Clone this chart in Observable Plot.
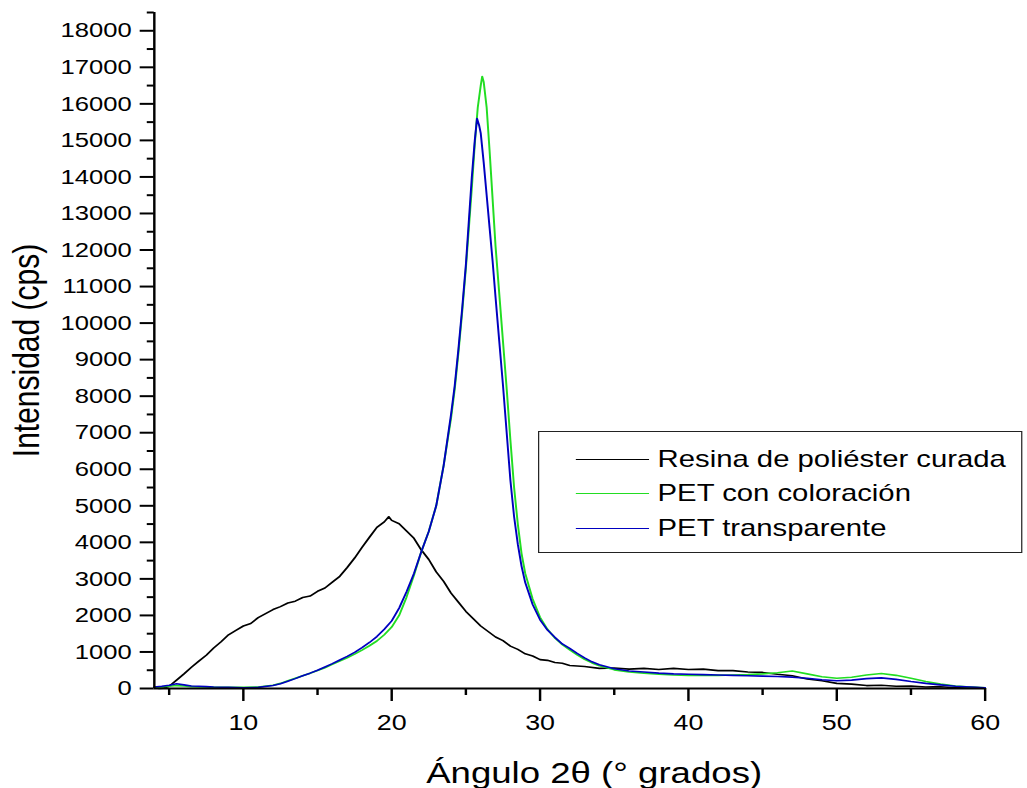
<!DOCTYPE html>
<html><head><meta charset="utf-8">
<script src="https://cdn.jsdelivr.net/npm/d3@7"></script>
<script src="https://cdn.jsdelivr.net/npm/@observablehq/plot@0.6"></script>
<style>
body{margin:0;background:#fff;}
#wrap{position:relative;width:842px;height:788px;transform:scaleX(1.22);transform-origin:0 0;font-family:"Liberation Sans",Arial,sans-serif;}
#legend{position:absolute;left:441px;top:431px;width:397px;height:122px;border:1px solid #222;box-sizing:border-box;background:#fff}
.row{position:absolute;left:0;height:0}
.row .sw{position:absolute;left:30px;width:60px;top:0;border-top:1px solid}
.row .lb{position:absolute;left:97px;top:-14px;font-size:24px;line-height:28px;white-space:nowrap;color:#000}
</style>
</head><body>
<div id="wrap"><div id="chart"></div><div id="legend"></div></div>
<script>
const seriesNames = ["Resina de poliéster curada", "PET con coloración", "PET transparente"];
const seriesColors = ["#000000", "#22dd22", "#0000c0"];

const resina = [[4.3,0],[4.6,10],[5,60],[5.5,230],[6,400],[6.5,580],[7,750],[7.5,910],[8,1110],[8.5,1280],[9,1470],[9.5,1590],[10,1710],[10.5,1780],[11,1940],[11.5,2050],[12,2160],[12.5,2240],[13,2340],[13.5,2390],[14,2490],[14.5,2530],[15,2660],[15.5,2750],[16,2910],[16.5,3070],[17,3310],[17.5,3570],[18,3860],[18.5,4140],[19,4410],[19.5,4560],[19.8,4700],[20,4600],[20.5,4510],[21,4310],[21.5,4110],[22,3790],[22.5,3530],[23,3190],[23.5,2930],[24,2610],[24.5,2360],[25,2110],[25.5,1910],[26,1710],[26.5,1560],[27,1410],[27.5,1310],[28,1160],[28.5,1070],[29,950],[29.5,890],[30,790],[30.5,770],[31,710],[31.5,690],[32,630],[33,600],[34,550],[35,560],[36,530],[37,550],[38,520],[39,550],[40,520],[41,530],[42,490],[43,490],[44,450],[45,440],[46,390],[47,350],[48,260],[49,210],[50,140],[51,120],[52,80],[53,90],[54,60],[55,70],[56,40],[57,50],[58,20],[59,30],[60,10]];

const coloracion = [[4,30],[4.5,40],[5,60],[5.5,80],[6,70],[6.5,50],[7,40],[7.5,40],[8,30],[9,30],[10,30],[11,40],[12,90],[12.5,140],[13,210],[13.5,280],[14,350],[14.5,420],[15,490],[15.5,570],[16,660],[16.5,750],[17,840],[17.5,940],[18,1050],[18.5,1170],[19,1300],[19.5,1470],[20,1680],[20.5,2000],[21,2500],[21.5,3100],[22,3750],[22.5,4300],[23,5000],[23.5,6100],[24,7400],[24.25,8200],[24.5,9200],[24.75,10300],[25,11500],[25.2,12600],[25.4,13700],[25.6,14900],[25.8,15900],[26,16500],[26.1,16750],[26.2,16600],[26.4,15900],[26.6,14700],[26.8,13400],[27,12100],[27.25,10800],[27.5,9500],[27.75,8200],[28,6800],[28.25,5500],[28.5,4500],[28.75,3700],[29,3150],[29.5,2450],[30,1950],[30.5,1620],[31,1380],[31.5,1200],[32,1060],[32.5,920],[33,800],[33.5,700],[34,620],[35,510],[36,450],[37,420],[38,390],[39,370],[40,360],[41,360],[42,360],[43,370],[44,380],[45,400],[46,430],[47,480],[48,400],[49,320],[50,280],[51,310],[52,370],[53,410],[54,360],[55,280],[56,190],[57,120],[58,70],[59,40],[60,20]];

const transparente = [[4,40],[4.5,60],[5,90],[5.5,130],[6,100],[6.5,70],[7,60],[7.5,50],[8,40],[9,30],[10,20],[11,30],[12,80],[12.5,130],[13,200],[13.5,270],[14,350],[14.5,420],[15,500],[15.5,590],[16,680],[16.5,780],[17,880],[17.5,990],[18,1120],[18.5,1260],[19,1420],[19.5,1620],[20,1850],[20.5,2200],[21,2650],[21.5,3150],[22,3750],[22.5,4300],[23,5000],[23.5,6100],[24,7500],[24.25,8300],[24.5,9300],[24.75,10400],[25,11600],[25.2,12800],[25.4,14000],[25.6,15000],[25.75,15600],[25.9,15400],[26,15200],[26.2,14400],[26.4,13500],[26.6,12600],[26.8,11700],[27,10700],[27.25,9500],[27.5,8300],[27.75,7000],[28,5700],[28.25,4700],[28.5,3950],[28.75,3350],[29,2900],[29.5,2300],[30,1880],[30.5,1600],[31,1400],[31.5,1220],[32,1100],[32.5,960],[33,840],[33.5,730],[34,650],[35,540],[36,480],[37,450],[38,420],[39,400],[40,390],[41,380],[42,370],[43,360],[44,350],[45,340],[46,330],[47,310],[48,280],[49,240],[50,210],[51,230],[52,270],[53,290],[54,250],[55,190],[56,140],[57,100],[58,60],[59,40],[60,20]];

const xMajorTicks = [10, 20, 30, 40, 50, 60];
const xMinorTicks = [5, 15, 25, 35, 45, 55];
const yMajorTicks = [0,1000,2000,3000,4000,5000,6000,7000,8000,9000,10000,11000,12000,13000,14000,15000,16000,17000,18000];
const yMinorTicks = [500,1500,2500,3500,4500,5500,6500,7500,8500,9500,10500,11500,12500,13500,14500,15500,16500,17500,18500];
const xTitle = "Ángulo 2θ (° grados)";
const yTitle = "Intensidad (cps)";

const allSeries = [resina, coloracion, transparente];
const lineMarks = allSeries.map((s, i) =>
  Plot.line(s, {x: d => d[0], y: d => d[1], stroke: seriesColors[i], strokeWidth: 1.6}));

const chart = Plot.plot({
  width: 842, height: 788,
  marginLeft: 126, marginRight: 35, marginTop: 12, marginBottom: 100,
  x: {domain: [4, 60]},
  y: {domain: [0, 18500]},
  style: {fontFamily: "'Liberation Sans', Arial, sans-serif", color: "#000", background: "#fff"},
  marks: [
    ...lineMarks,
    Plot.ruleX([4], {stroke: "#000", strokeWidth: 2}),
    Plot.ruleY([0], {stroke: "#000", strokeWidth: 2}),
    Plot.axisY({ticks: yMajorTicks, tickFormat: "d", tickSize: 11.5, tickPadding: 7, fontSize: 21, strokeWidth: 2, label: null}),
    Plot.axisY({ticks: yMinorTicks, tickFormat: () => "", tickSize: 5.7, strokeWidth: 2, label: null}),
    Plot.axisX({ticks: xMajorTicks, tickFormat: "d", tickSize: 13, tickPadding: 13, fontSize: 22, strokeWidth: 2, label: null}),
    Plot.axisX({ticks: xMinorTicks, tickFormat: () => "", tickSize: 7, strokeWidth: 2, label: null}),
    Plot.text([yTitle], {frameAnchor: "left", textAnchor: "middle", lineAnchor: "middle", dx: -104, rotate: -90, fontSize: 30}),
    Plot.text([xTitle], {frameAnchor: "bottom", textAnchor: "middle", lineAnchor: "middle", dy: 85, dx: 20, fontSize: 30})
  ]
});
document.getElementById("chart").appendChild(chart);

const legend = document.getElementById("legend");
const rowTops = [27, 61, 96];
seriesNames.forEach((name, i) => {
  const row = document.createElement("div");
  row.className = "row";
  row.style.top = rowTops[i] + "px";
  const sw = document.createElement("div");
  sw.className = "sw";
  sw.style.borderTopColor = seriesColors[i];
  const lb = document.createElement("div");
  lb.className = "lb";
  lb.textContent = name;
  row.appendChild(sw); row.appendChild(lb);
  legend.appendChild(row);
});
</script>
</body></html>
